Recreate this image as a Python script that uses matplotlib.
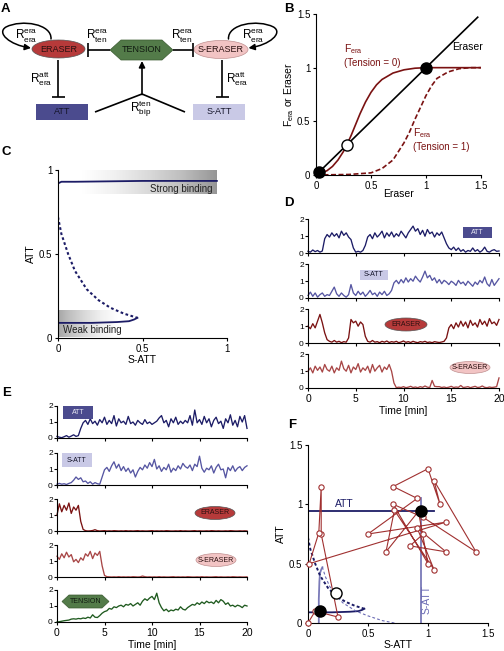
import numpy as np
import matplotlib
matplotlib.use('Agg')
import matplotlib.pyplot as plt
from matplotlib.patches import Ellipse, Rectangle, Polygon, FancyArrowPatch
from matplotlib.path import Path

plt.rcParams['font.family'] = ['Liberation Sans', 'DejaVu Sans']
plt.rcParams['mathtext.default'] = 'regular'
plt.rcParams['axes.linewidth'] = 0.8

NAVY = '#1c1c66'
SLATE = '#5656a2'
DARKRED = '#7a1212'
ROSE = '#a84646'
GREEN = '#1f5a1f'
TRAJ = '#a03030'

# ---------------- panel B data
b_x = [0, 0.05, 0.1, 0.15, 0.2, 0.25, 0.28, 0.32, 0.36, 0.4, 0.45, 0.5, 0.55, 0.6,
       0.7, 0.8, 0.9, 1.0, 1.2, 1.5]
fera_t0 = [0.01, 0.02, 0.04, 0.08, 0.14, 0.22, 0.28, 0.37, 0.47, 0.57, 0.68, 0.77, 0.84, 0.89,
           0.95, 0.98, 0.995, 1.0, 1.0, 1.0]
b_x1 = [0, 0.3, 0.5, 0.6, 0.7, 0.8, 0.85, 0.9, 0.95, 1.0, 1.05, 1.1, 1.2, 1.3, 1.4, 1.5]
fera_t1 = [0, 0.005, 0.02, 0.06, 0.14, 0.30, 0.40, 0.52, 0.63, 0.74, 0.83, 0.90, 0.96, 0.99, 1.0, 1.0]
eraser_diag = [0, 1.47]
b_stable_x = [0.03, 1.0]
b_stable_y = [0.03, 1.0]
b_unstable = [0.28]

# ---------------- panel C data
strong_x = [0, 0.02, 0.1, 0.5, 0.94]
strong_y = [0.92, 0.93, 0.93, 0.935, 0.935]
weak_x = [0, 0.2, 0.35, 0.42, 0.45, 0.47]
weak_y = [0.09, 0.09, 0.095, 0.10, 0.11, 0.12]
unst_x = [0, 0.02, 0.06, 0.1, 0.17, 0.24, 0.31, 0.39, 0.47]
unst_y = [0.72, 0.62, 0.50, 0.40, 0.29, 0.225, 0.18, 0.145, 0.12]

# ---------------- panel D traces (every 0.25 min, 0..20)
d_att = [0.10, 0.05, 0.18, 0.08, 0.15, 0.05, 0.12, 0.85, 1.10, 0.95,
         1.20, 1.00, 1.15, 0.90, 1.30, 1.05, 1.20, 0.95, 0.80, 0.30,
         0.05, 0.10, 0.05, 0.15, 0.45, 0.95, 1.10, 0.85, 1.20, 0.95,
         1.10, 1.30, 0.90, 1.20, 1.00, 1.25, 0.95, 1.15, 1.00, 1.30,
         1.10, 0.90, 1.20, 1.40, 1.60, 1.30, 1.45, 1.10, 1.35, 1.00,
         1.40, 1.15, 1.25, 0.95, 1.20, 1.05, 1.25, 0.90, 0.55, 0.30,
         0.20, 0.35, 0.15, 0.30, 0.10, 0.20, 0.05, 0.15, 0.10, 0.30,
         0.10, 0.20, 0.05, 0.15, 0.35, 0.10, 0.05, 0.15, 0.20, 0.10, 0.12]
d_satt = [0.15, 0.35, 0.10, 0.30, 0.05, 0.20, 0.30, 0.10, 0.20,
          0.15, 0.40, 0.65, 0.25,
          0.10, 0.30, 0.15, 0.05, 0.20,
          0.80, 0.30,
          0.15, 0.40, 0.20, 0.35, 0.10, 0.25, 0.45, 0.20, 0.30, 0.10, 0.35, 0.20, 0.40, 0.15, 0.25,
          0.45, 0.90,
          1.05, 0.85, 1.10, 0.90, 1.20, 0.95, 1.15, 1.00, 1.30, 1.10, 0.95, 1.25,
          1.60,
          1.20, 1.35, 1.05, 1.20, 0.90, 1.10, 0.85, 1.05, 0.95, 0.80,
          1.00, 0.90, 0.75, 1.05, 0.85, 0.95, 0.75, 1.00, 0.85, 0.70,
          0.95, 0.80, 1.05, 0.90, 1.25, 0.85, 0.70, 1.10, 0.75, 0.95, 1.15]
d_eraser = [1.00, 0.85, 1.15, 0.90, 1.30, 1.70, 1.20, 0.60, 0.20, 0.10,
            0.05, 0.15, 0.05, 0.10, 0.02, 0.08, 0.05, 0.30,
            1.40, 1.20, 1.30, 1.00, 1.25, 1.10, 0.40,
            0.10, 0.05, 0.15, 0.05, 0.08, 0.02, 0.10, 0.05, 0.12, 0.03,
            0.08, 0.05, 0.10, 0.02, 0.06, 0.12, 0.04, 0.08, 0.03, 0.10,
            0.05, 0.02, 0.08, 0.05, 0.10, 0.03, 0.06, 0.02, 0.08, 0.05,
            0.03, 0.06, 0.10,
            0.30, 0.90, 1.10, 0.85, 1.20, 0.95, 1.30, 1.00, 1.25, 0.90,
            1.35, 1.05, 1.20, 0.95, 1.40, 1.10, 1.30, 1.00, 1.45, 1.15,
            1.25, 1.05, 1.40]
d_seraser = [1.00, 1.20, 0.90, 1.30, 1.05, 1.25, 0.95, 1.40, 1.10, 1.00,
             1.30, 0.90, 1.20, 1.05, 1.60, 1.15, 1.00, 1.35, 0.90, 1.25,
             1.10, 1.45, 0.95, 1.20, 1.05, 1.30, 0.90, 1.40, 1.00, 1.20,
             1.35, 0.95, 1.25, 1.10, 1.40, 1.00,
             0.30,
             0.02, 0.05, 0.03, 0.08, 0.02, 0.05, 0.10, 0.03, 0.06, 0.02,
             0.08, 0.04, 0.12, 0.05, 0.03, 0.45, 0.10, 0.08, 0.08, 0.03,
             0.06, 0.02, 0.05, 0.10, 0.03, 0.06, 0.04, 0.15, 0.03, 0.05,
             0.08, 0.02, 0.06, 0.10, 0.03, 0.05, 0.12, 0.04, 0.02, 0.06,
             0.03, 0.05, 0.08, 0.60]

# ---------------- panel E traces (every 0.25 min, 0..20)
e_att = [0.10, 0.05, 0.02, 0.08, 0.15, 0.05, 0.12, 0.20, 0.10, 0.15,
         0.60,
         0.95, 1.10, 0.85, 1.20, 0.90, 1.05, 0.80, 1.15, 0.95, 1.30,
         0.85, 1.10, 0.90, 1.40, 0.75, 1.20, 0.95, 1.05, 0.85, 1.35,
         0.90, 1.00, 0.80, 1.10, 0.95, 0.85, 1.15, 0.90, 1.00, 0.85,
         0.95, 1.05, 1.25, 1.40, 0.95, 1.10, 0.70, 1.20, 0.95, 1.30,
         0.85, 1.05, 0.90, 1.10, 0.95, 1.40, 0.80, 1.75, 0.95, 1.15,
         0.85, 1.35, 0.95, 1.20, 0.70, 1.10, 1.30, 0.90, 1.05, 0.60,
         1.20, 0.95, 1.45, 0.80, 1.10, 0.70, 1.35, 1.00, 1.40, 0.60]
e_satt = [0.05, 0.10, 0.05, 0.08, 0.03, 0.10, 0.15,
          0.30, 0.50, 0.35, 0.45,
          0.20, 0.25, 0.10, 0.20, 0.05, 0.15, 0.08, 0.05,
          0.50,
          0.95, 1.10, 0.85, 1.20, 1.45, 1.05, 1.30, 0.90, 1.15, 0.85,
          1.05, 0.75, 0.95, 0.50, 0.85, 1.10, 0.95, 1.25, 1.05, 1.40,
          1.15, 1.60, 1.00, 1.20, 0.85, 1.10, 0.95, 1.30, 0.80, 1.05,
          0.90, 1.20, 1.00, 1.35, 1.15, 1.05, 1.25, 0.90, 1.30, 1.15,
          1.80, 1.05, 0.80, 1.05, 0.95, 1.20, 0.75, 1.10, 1.30, 0.95,
          1.00, 0.45, 1.10, 0.90, 1.20, 0.85, 1.05, 1.15, 0.90, 1.10,
          1.20]
e_eraser = [1.00, 1.70, 1.20, 1.60, 1.30, 1.75, 1.10, 1.50, 1.30, 1.60,
            0.60, 0.10,
            0.02, 0.00, 0.01, 0.03, 0.08, 0.02, 0.00, 0.01, 0.02, 0.00,
            0.01, 0.00, 0.02, 0.01, 0.00, 0.01, 0.00, 0.02, 0.00, 0.01,
            0.00, 0.01, 0.02, 0.00, 0.01, 0.00, 0.00, 0.01, 0.02, 0.00,
            0.01, 0.00, 0.01, 0.00, 0.02, 0.01, 0.00, 0.00, 0.01, 0.00,
            0.02, 0.00, 0.01, 0.00, 0.00, 0.01, 0.02, 0.00, 0.01, 0.00,
            0.00, 0.01, 0.00, 0.02, 0.01, 0.00, 0.01, 0.00, 0.00, 0.01,
            0.00, 0.02, 0.01, 0.00, 0.00, 0.01, 0.00, 0.01, 0.00]
e_seraser = [1.30, 1.10, 1.45, 1.20, 1.55, 1.25, 1.40, 0.95, 1.10, 0.90,
             1.20, 1.05, 1.45, 1.30, 1.60, 1.15, 1.50, 1.35, 1.60,
             0.70, 0.10,
             0.02, 0.01, 0.00, 0.01, 0.00, 0.02, 0.00, 0.01, 0.00, 0.01,
             0.00, 0.02, 0.01, 0.00, 0.01, 0.06, 0.02, 0.00, 0.01, 0.00,
             0.01, 0.00, 0.02, 0.00, 0.01, 0.00, 0.00, 0.01, 0.02, 0.00,
             0.01, 0.00, 0.01, 0.00, 0.02, 0.01, 0.00, 0.00, 0.01, 0.00,
             0.02, 0.00, 0.01, 0.00, 0.00, 0.01, 0.02, 0.00, 0.01, 0.00,
             0.00, 0.01, 0.00, 0.02, 0.01, 0.00, 0.01, 0.00, 0.00, 0.01]
e_tension = [0.00, 0.02, 0.05, 0.08, 0.10, 0.12, 0.18, 0.20, 0.18, 0.22,
             0.20, 0.25, 0.22, 0.30, 0.25, 0.45, 0.30, 0.28, 0.40, 0.55,
             0.65, 0.70, 0.85, 0.80, 0.95, 0.90, 1.00, 1.05, 0.95, 1.10,
             1.05, 1.15, 1.00, 1.10, 1.20, 1.05, 1.30, 1.45, 1.35, 1.50,
             1.60, 1.40, 1.80, 1.20, 0.90, 0.70, 0.80, 0.65, 0.75, 0.70,
             0.80, 0.75, 0.95, 0.80, 0.75, 0.90, 1.00, 1.10, 1.05, 1.20,
             1.10, 1.25, 1.15, 1.30, 1.20, 1.25, 1.15, 1.35, 1.20, 1.40,
             1.30, 1.10, 1.20, 1.00, 1.05, 0.95, 1.05, 1.00, 0.90, 1.05,
             1.00]

# ---------------- panel F data
f_att_hi_x = [0, 1.05]
f_att_hi_y = [0.94, 0.94]
f_stable_x = [0.94, 0.10]
f_stable_y = [0.94, 0.10]
f_saddle = (0.23, 0.25)
traj_x = [0.00, 0.06, 0.25, 0.11, 0.11, 0.09, 0.01, 1.15, 0.50, 0.91, 0.71, 1.00, 1.10,
          1.05, 1.40, 0.96, 0.71, 1.00, 0.92, 0.65, 0.72, 1.05, 0.91, 1.15, 0.85, 0.96]
traj_y = [0.00, 0.10, 0.05, 0.75, 1.15, 0.76, 0.50, 0.85, 0.75, 1.05, 1.15, 1.30, 1.00,
          1.20, 0.60, 0.89, 1.00, 0.50, 0.94, 0.60, 0.95, 0.45, 0.80, 0.60, 0.65, 0.75]

W, H = 504, 651
fig = plt.figure(figsize=(W / 100, H / 100), dpi=100)


def px_axes(left, top, right, bottom):
    return fig.add_axes([left / W, 1 - bottom / H, (right - left) / W, (bottom - top) / H])


def style(ax, fs=7):
    for s in ('top', 'right'):
        ax.spines[s].set_visible(False)
    ax.tick_params(direction='out', length=2.5, width=0.8, labelsize=fs, pad=1.5)


# ---------------- B
axb = px_axes(316, 14, 481, 175)
style(axb)
axb.plot(eraser_diag, eraser_diag, color='k', lw=1.2)
axb.plot(b_x, fera_t0, color=DARKRED, lw=1.2)
axb.plot(b_x1, fera_t1, color=DARKRED, lw=1.2, ls=(0, (3, 1.5)))
axb.plot(b_stable_x, b_stable_y, 'o', color='k', ms=8, clip_on=False, zorder=5)
axb.plot(b_unstable, b_unstable, 'o', mfc='white', mec='k', mew=1, ms=8, zorder=5)
axb.set_xlim(0, 1.5)
axb.set_ylim(0, 1.5)
axb.set_xticks([0, 0.5, 1, 1.5])
axb.set_xticklabels(['0', '0.5', '1', '1.5'])
axb.set_yticks([0, 0.5, 1, 1.5])
axb.set_yticklabels(['0', '0.5', '1', '1.5'])
axb.set_xlabel('Eraser', fontsize=7.5, labelpad=-1)
axb.set_ylabel(r'$\mathregular{F_{era}}$ or Eraser', fontsize=7.5, labelpad=1)
axb.text(0.25, 1.17, r'$\mathregular{F_{era}}$', color=DARKRED, fontsize=7.5, va='center')
axb.text(0.25, 1.04, '(Tension = 0)', color=DARKRED, fontsize=7, va='center')
axb.text(1.24, 1.19, 'Eraser', color='k', fontsize=7.5, va='center')
axb.text(0.88, 0.39, r'$\mathregular{F_{era}}$', color=DARKRED, fontsize=7.5, va='center')
axb.text(0.88, 0.26, '(Tension = 1)', color=DARKRED, fontsize=7, va='center')

# ---------------- C
axc = px_axes(58, 170, 227, 338)
style(axc)
grad = np.linspace(0, 1, 256).reshape(1, -1)
axc.imshow(np.clip((grad - 0.15) / 0.85, 0, 1) * 0.5, cmap='Greys', vmin=0, vmax=1,
           extent=[0, 0.94, 0.855, 1.0], aspect='auto', zorder=0)
axc.imshow(np.clip((0.75 - grad) / 0.75, 0, 1) * 0.45, cmap='Greys', vmin=0, vmax=1,
           extent=[0, 0.47, 0.005, 0.16], aspect='auto', zorder=0)
axc.plot(strong_x, strong_y, color=NAVY, lw=1.3)
axc.plot(weak_x, weak_y, color=NAVY, lw=1.3)
axc.plot(unst_x, unst_y, color=NAVY, lw=1.5, ls=(0, (1.3, 1.2)))
axc.text(0.915, 0.885, 'Strong binding', fontsize=7, ha='right', va='center', color='#222222')
axc.text(0.03, 0.045, 'Weak binding', fontsize=7, ha='left', va='center', color='#222222')
axc.set_xlim(0, 1)
axc.set_ylim(0, 1)
axc.set_xticks([0, 0.5, 1])
axc.set_xticklabels(['0', '0.5', '1'])
axc.set_yticks([0, 0.5, 1])
axc.set_yticklabels(['0', '0.5', '1'])
axc.set_xlabel('S-ATT', fontsize=7.5, labelpad=1)
axc.set_ylabel('ATT', fontsize=7.5, labelpad=2)


# ---------------- D and E stacked traces
def trace_rows(left, right, bottoms, unit, series, colors):
    axes = []
    for i, (vals, col) in enumerate(zip(series, colors)):
        bot = bottoms[i]
        ax = px_axes(left, bot - 2.6 * unit, right, bot)
        style(ax, fs=6)
        ax.set_facecolor('none')
        t = np.linspace(0, 20, len(vals))
        ax.plot(t, vals, color=col, lw=0.95, clip_on=False)
        ax.set_xlim(0, 20)
        ax.set_ylim(0, 2.6)
        ax.spines['left'].set_bounds(0, 2)
        ax.set_yticks([0, 1, 2])
        ax.set_xticks([0, 5, 10, 15, 20])
        ax.tick_params(axis='y', length=2, pad=1)
        if i < len(series) - 1:
            ax.set_xticklabels([])
        else:
            ax.tick_params(axis='x', labelsize=7.5, pad=2)
            ax.set_xlabel('Time [min]', fontsize=7.5, labelpad=1)
        axes.append(ax)
    return axes


trace_rows(308, 499, [253, 298, 343, 388], 16.8,
           [d_att, d_satt, d_eraser, d_seraser], [NAVY, SLATE, DARKRED, ROSE])
trace_rows(57, 247, [438, 485, 531, 577, 622], 16.0,
           [e_att, e_satt, e_eraser, e_seraser, e_tension],
           [NAVY, SLATE, DARKRED, ROSE, GREEN])

# ---------------- F
axf = px_axes(308, 445, 488, 623)
style(axf)
axf.plot(f_att_hi_x, f_att_hi_y, color=NAVY, lw=1.3)
axf.plot(f_att_hi_y, f_att_hi_x, color='#7a7ab8', lw=1.3)
axf.plot(weak_x, weak_y, color=NAVY, lw=1.3)
axf.plot(weak_y, weak_x, color='#7a7ab8', lw=1.3)
axf.plot(unst_x, unst_y, color=NAVY, lw=1.4, ls=(0, (1.5, 1.2)))
axf.plot(unst_y, unst_x, color='#6a6ab4', lw=0.8, ls=(0, (2.5, 2)))
axf.plot(traj_x, traj_y, color=TRAJ, lw=0.8, marker='o', ms=3.8, mfc='white',
         mec=TRAJ, mew=0.8, clip_on=False, zorder=4)
axf.plot(f_stable_x, f_stable_y, 'o', color='k', ms=8, zorder=6)
axf.plot([f_saddle[0]], [f_saddle[1]], 'o', mfc='white', mec='k', mew=1, ms=8, zorder=6)
axf.text(0.3, 1.0, 'ATT', color=NAVY, fontsize=7.5, ha='center', va='center')
axf.text(0.985, 0.2, 'S-ATT', color='#6a6ab4', fontsize=7.5, ha='center', va='center',
         rotation=90)
axf.set_xlim(0, 1.5)
axf.set_ylim(0, 1.5)
axf.set_xticks([0, 0.5, 1, 1.5])
axf.set_xticklabels(['0', '0.5', '1', '1.5'])
axf.set_yticks([0, 0.5, 1, 1.5])
axf.set_yticklabels(['0', '0.5', '1', '1.5'])
axf.set_xlabel('S-ATT', fontsize=7.5, labelpad=1)
axf.set_ylabel('ATT', fontsize=7.5, labelpad=2)

# ---------------- overlay: diagram A, panel letters, species tags
ov = fig.add_axes([0, 0, 1, 1], zorder=10)
ov.set_xlim(0, W)
ov.set_ylim(H, 0)
ov.axis('off')
ov.set_facecolor('none')


def ell(cx, cy, w, h, fc, label, fs, ec='#555555'):
    ov.add_patch(Ellipse((cx, cy), w, h, fc=fc, ec=ec, lw=0.5))
    ov.text(cx, cy, label, ha='center', va='center', fontsize=fs, color='#2a1010')


def rect(x0, y0, x1, y1, fc, label, fs, tc='#15152a'):
    ov.add_patch(Rectangle((x0, y0), x1 - x0, y1 - y0, fc=fc, ec='none'))
    ov.text((x0 + x1) / 2, (y0 + y1) / 2, label, ha='center', va='center', fontsize=fs, color=tc)


def hexa(x0, y0, x1, y1, d, fc, label, fs):
    ym = (y0 + y1) / 2
    ov.add_patch(Polygon([(x0, ym), (x0 + d, y0), (x1 - d, y0), (x1, ym), (x1 - d, y1), (x0 + d, y1)],
                         closed=True, fc=fc, ec='#3a5a30', lw=0.5))
    ov.text((x0 + x1) / 2, ym, label, ha='center', va='center', fontsize=fs, color='#101a10')


def line(xs, ys, lw=1.2):
    ov.plot(xs, ys, color='k', lw=lw, solid_capstyle='butt')


# diagram A
ell(58.5, 49, 53, 18, '#b63a3a', 'ERASER', 6.5)
hexa(110, 40, 173, 60, 11, '#537b49', 'TENSION', 6.5)
ell(221, 49.5, 54, 18, '#f2c4c4', 'S-ERASER', 6.5, ec='#c09090')
rect(36, 104, 88, 120, '#4b4b8e', 'ATT', 6.5)
rect(193, 104, 245, 120, '#c9c9e6', 'S-ATT', 6.5)
line([88, 110], [50, 50]); line([88, 88], [43, 57])
line([173, 193], [50, 50]); line([193, 193], [43, 57])
line([58, 58], [60, 97]); line([52, 65], [97, 97])
line([222, 222], [60, 97]); line([216, 229], [97, 97])
line([95, 142], [112, 94]); line([185, 142], [112, 94])
ov.add_patch(FancyArrowPatch((142, 94.5), (142, 61), arrowstyle='-|>', mutation_scale=9,
                             lw=1.2, color='k', shrinkA=0, shrinkB=0))
loop_codes = [Path.MOVETO, Path.CURVE4, Path.CURVE4, Path.CURVE4,
              Path.CURVE4, Path.CURVE4, Path.CURVE4]
left_loop = [(51, 39), (52, 24), (22, 19), (6, 27), (-4, 33), (10, 45), (31, 48)]
right_loop = [(279.5 - x, y) for x, y in left_loop]
for verts in (left_loop, right_loop):
    ov.add_patch(FancyArrowPatch(path=Path(verts, loop_codes),
                                 arrowstyle='-|>', mutation_scale=9, lw=1.1, color='k'))
rlabels = [(26, 35, 'era', 'era'), (97, 35, 'era', 'ten'), (182, 35, 'era', 'ten'),
           (253.5, 35, 'era', 'era'), (41, 79, 'att', 'era'), (237, 79, 'att', 'era'),
           (141, 109, 'ten', 'bip')]
for x, y, sup, sub in rlabels:
    ov.text(x, y, r'$\mathregular{R^{%s}_{%s}}$' % (sup, sub), ha='center', va='center',
            fontsize=8.5)

# tags in D
rect(463, 227, 492, 238, '#4b4b8e', 'ATT', 5, tc='#e8e8f4')
rect(360, 270, 388, 280, '#c9c9e6', 'S-ATT', 5)
ell(406, 324.5, 42, 13, '#b63a3a', 'ERASER', 5)
ell(470, 367.5, 40, 12, '#f2c4c4', 'S-ERASER', 5, ec='#c09090')
# tags in E
rect(63, 406, 93, 419, '#4b4b8e', 'ATT', 5, tc='#e8e8f4')
rect(62, 453, 92, 467, '#c9c9e6', 'S-ATT', 5)
ell(215, 513, 40, 13, '#b63a3a', 'ERASER', 5)
ell(216, 560, 40, 13, '#f2c4c4', 'S-ERASER', 5, ec='#c09090')
hexa(62, 595, 109, 608, 7, '#537b49', 'TENSION', 5)

for x, y, letter in [(1, 9, 'A'), (284, 9, 'B'), (1, 152, 'C'), (284, 203, 'D'),
                     (2, 393, 'E'), (288, 425, 'F')]:
    ov.text(x, y, letter, fontsize=9.5, fontweight='bold', ha='left', va='center')

fig.savefig('out.png', dpi=100)
